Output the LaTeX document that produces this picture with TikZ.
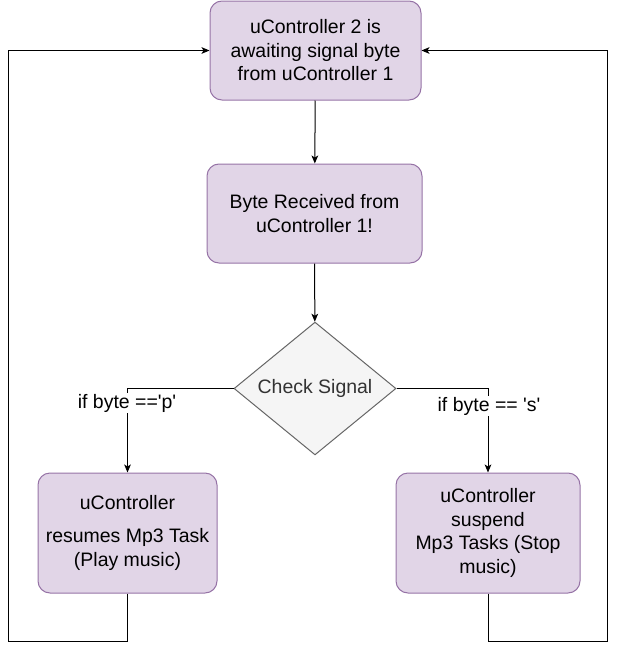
\documentclass[tikz,border=0pt]{standalone}
\usepackage{fontspec}
\setmainfont{Liberation Sans}
\usepackage{tikz}
\usetikzlibrary{shapes.geometric,arrows.meta}

\definecolor{boxfill}{HTML}{E1D5E7}
\definecolor{boxline}{HTML}{9673A6}
\definecolor{decfill}{HTML}{F5F5F5}
\definecolor{decline}{HTML}{666666}
\definecolor{dectext}{HTML}{333333}

\tikzset{
  stepbox/.style={draw=boxline, fill=boxfill, rounded corners=9pt, align=center,
                  line width=0.75pt, inner sep=0pt, font=\fontsize{14.6}{17.6}\selectfont},
  checkbox/.style={draw=decline, fill=decfill, diamond, inner sep=0pt, text=dectext,
                   line width=0.75pt, minimum width=121.5pt, minimum height=96.75pt,
                   font=\fontsize{14.6}{17.6}\selectfont},
  lbl/.style={fill=white, inner sep=1pt, font=\fontsize{14.6}{17.6}\selectfont},
  flow/.style={->, line width=0.75pt}
}

\begin{document}
\begin{tikzpicture}[x=0.75pt, y=-0.75pt, >={Stealth[length=6pt,width=5pt,inset=1.5pt]}]
    \useasboundingbox (0,0) rectangle (617,653);
    % boxes
    \node[stepbox, minimum width=158.25pt, minimum height=74.25pt] (wait) at (315.5,50.5)
        {uController 2 is\\awaiting signal byte\\from uController 1};
    \node[stepbox, minimum width=161.25pt, minimum height=74.25pt] (recv) at (314.5,213.5)
        {Byte Received from\\uController 1!};
    \node[checkbox] (check) at (315,388.5) {Check Signal};
    \node[stepbox, minimum width=134.25pt, minimum height=90pt] (play) at (127.5,533)
        {uController\\[7pt]resumes Mp3 Task\\(Play music)};
    \node[stepbox, minimum width=138pt, minimum height=90pt] (stop) at (488,533)
        {uController\\suspend\\Mp3 Tasks (Stop\\music)};
    \coordinate (loopL) at (8,641);
    \coordinate (loopR) at (607,641);
    % connectors
    \draw[flow] (wait) -- (recv);
    \draw[flow] (recv) -- (check);
    \draw[flow] (check.west) -| (play.north);
    \draw[flow] (check.east) -| (stop.north);
    \draw[flow] (play.south) |- (loopL) |- (wait.west);
    \draw[flow] (stop.south) |- (loopR) |- (wait.east);
    % branch labels
    \node[lbl] (ifp) at (127,403) {if byte ==\textquotesingle p\textquotesingle};
    \node[lbl] (ifs) at (489,406) {if byte == \textquotesingle s\textquotesingle};
\end{tikzpicture}
\end{document}
